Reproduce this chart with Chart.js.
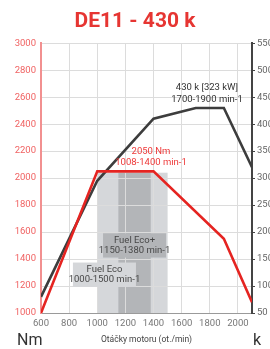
<!DOCTYPE html>
<html>
<head>
<meta charset="utf-8">
<script src="https://cdn.jsdelivr.net/npm/chart.js@4"></script>
<style>
  html, body { margin: 0; padding: 0; background: #fff; }
  #wrap { width: 270px; height: 349px; position: relative; }
</style>
</head>
<body>
<div id="wrap"><canvas id="engineChart"></canvas></div>
<script>
// Krivky motoru DE11 - krouticí moment (Nm) a výkon (k)
const torqueRpm = [600, 1000, 1400, 1900, 2100];
const torqueNm = [1000, 2050, 2050, 1550, 1080];
const powerRpm = [600, 1000, 1400, 1700, 1900, 2100];
const powerK = [80, 295, 410, 430, 430, 320];

// Pásma Fuel Eco (ot./min)
const bandNames = ['Fuel Eco', 'Fuel Eco+'];
const bandRanges = ['1000-1500 min-1', '1150-1380 min-1'];
const bandStart = [1000, 1150];
const bandEnd = [1500, 1380];
const bandTopNm = 2040;

const redLine = '#e52421';
const darkLine = '#3d3d3d';
const bandColors = ['#d5d7da', '#b3b5b8'];
const narrow = '"Liberation Sans Narrow", Roboto, sans-serif';

function pts(xs, ys) {
    return xs.map((x, i) => ({ x: x, y: ys[i] }));
}

// čísla bez oddělovače tisíců
const plain = v => String(v);

// Pásma pod mřížkou
const bandsPlugin = {
    id: 'bands',
    beforeDraw(chart) {
        const { ctx, scales } = chart;
        const x = scales.x, y = scales.y;
        ctx.save();
        for (let i = 0; i < bandStart.length; i++) {
            const x0 = x.getPixelForValue(bandStart[i]);
            const x1 = x.getPixelForValue(bandEnd[i]);
            const y0 = y.getPixelForValue(bandTopNm);
            const y1 = y.getPixelForValue(y.min);
            ctx.fillStyle = bandColors[i];
            ctx.fillRect(x0, y0, x1 - x0, y1 - y0);
        }
        ctx.restore();
    },
    // štítky pásem nad mřížkou
    beforeDatasetsDraw(chart) {
        const { ctx, scales } = chart;
        const x = scales.x, y = scales.y;
        // [x od, x do, y horní, y dolní] v jednotkách os
        const boxes = [[827, 1275, 1374, 1194], [1041, 1489, 1591, 1411]];
        ctx.save();
        ctx.font = '9.5px ' + narrow;
        ctx.textAlign = 'center';
        ctx.textBaseline = 'middle';
        boxes.forEach((b, i) => {
            const x0 = x.getPixelForValue(b[0]), x1 = x.getPixelForValue(b[1]);
            const y0 = y.getPixelForValue(b[2]), y1 = y.getPixelForValue(b[3]);
            ctx.fillStyle = bandColors[i];
            ctx.fillRect(x0, y0, x1 - x0, y1 - y0);
            ctx.fillStyle = '#474747';
            const cx = (x0 + x1) / 2;
            ctx.fillText(bandNames[i], cx, y0 + 7);
            ctx.fillText(bandRanges[i], cx, y0 + 17.5);
        });
        ctx.restore();
    },
    afterDraw(chart) {
        const { ctx, scales } = chart;
        const x = scales.x, y = scales.y, y2 = scales.y2;
        ctx.save();
        ctx.font = '9.5px ' + narrow;
        ctx.textAlign = 'center';
        ctx.textBaseline = 'middle';
        ctx.fillStyle = '#333';
        ctx.fillText('430 k [323 kW]', x.getPixelForValue(1780), y2.getPixelForValue(467));
        ctx.fillText('1700-1900 min-1', x.getPixelForValue(1780), y2.getPixelForValue(445));
        ctx.fillStyle = '#ee3a3a';
        ctx.fillText('2050 Nm', x.getPixelForValue(1382), y.getPixelForValue(2196));
        ctx.fillText('1008-1400 min-1', x.getPixelForValue(1382), y.getPixelForValue(2114));
        // jednotky os
        ctx.font = '16px Roboto';
        ctx.textAlign = 'left';
        ctx.textBaseline = 'alphabetic';
        ctx.fillStyle = '#333';
        ctx.fillText('Nm', 17, 345);
        ctx.fillText('k', 253, 345);
        ctx.restore();
    }
};

const ctx = document.getElementById('engineChart').getContext('2d');
new Chart(ctx, {
    type: 'line',
    data: {
        datasets: [
            {
                label: 'Nm',
                data: pts(torqueRpm, torqueNm),
                yAxisID: 'y',
                borderColor: redLine,
                borderWidth: 2.6,
                pointRadius: 0,
                tension: 0
            },
            {
                label: 'k',
                data: pts(powerRpm, powerK),
                yAxisID: 'y2',
                borderColor: darkLine,
                borderWidth: 2.6,
                pointRadius: 0,
                tension: 0
            }
        ]
    },
    options: {
        responsive: true,
        maintainAspectRatio: false,
        animation: false,
        devicePixelRatio: 1,
        layout: { padding: 0 },
        plugins: {
            legend: { display: false },
            tooltip: { enabled: false },
            title: {
                display: true,
                text: 'DE11 - 430 k',
                color: '#e63532',
                font: { family: 'Roboto', size: 21, weight: 'bold' },
                padding: { top: 9, bottom: 9 }
            }
        },
        scales: {
            x: {
                type: 'linear',
                min: 600,
                max: 2100,
                ticks: {
                    stepSize: 200,
                    includeBounds: false,
                    callback: plain,
                    color: '#777',
                    font: { family: 'Roboto', size: 9.5 },
                    padding: 5,
                    maxRotation: 0
                },
                grid: { color: '#dcdcdc', drawTicks: false },
                border: { color: '#9a9a9a', width: 1 },
                title: {
                    display: true,
                    text: 'Otáčky motoru (ot./min)',
                    color: '#444',
                    font: { family: 'Roboto', size: 8.5 },
                    padding: { top: 0, bottom: 4 }
                },
                afterFit: s => { s.height = 36; }
            },
            y: {
                position: 'left',
                min: 1000,
                max: 3000,
                ticks: {
                    stepSize: 200,
                    callback: plain,
                    color: '#f06262',
                    font: { family: 'Roboto', size: 9.5 },
                    padding: 5
                },
                grid: { color: '#dcdcdc', drawTicks: false },
                border: { color: '#f29090', width: 2 },
                afterFit: s => { s.width = 41; }
            },
            y2: {
                position: 'right',
                min: 50,
                max: 550,
                ticks: {
                    stepSize: 50,
                    callback: plain,
                    color: '#666',
                    font: { family: 'Roboto', size: 9.5 },
                    padding: 2
                },
                grid: { drawOnChartArea: false, color: '#444', tickLength: 3 },
                border: { color: '#444', width: 2 },
                afterFit: s => { s.width = 18; }
            }
        }
    },
    plugins: [bandsPlugin]
});
</script>
</body>
</html>
